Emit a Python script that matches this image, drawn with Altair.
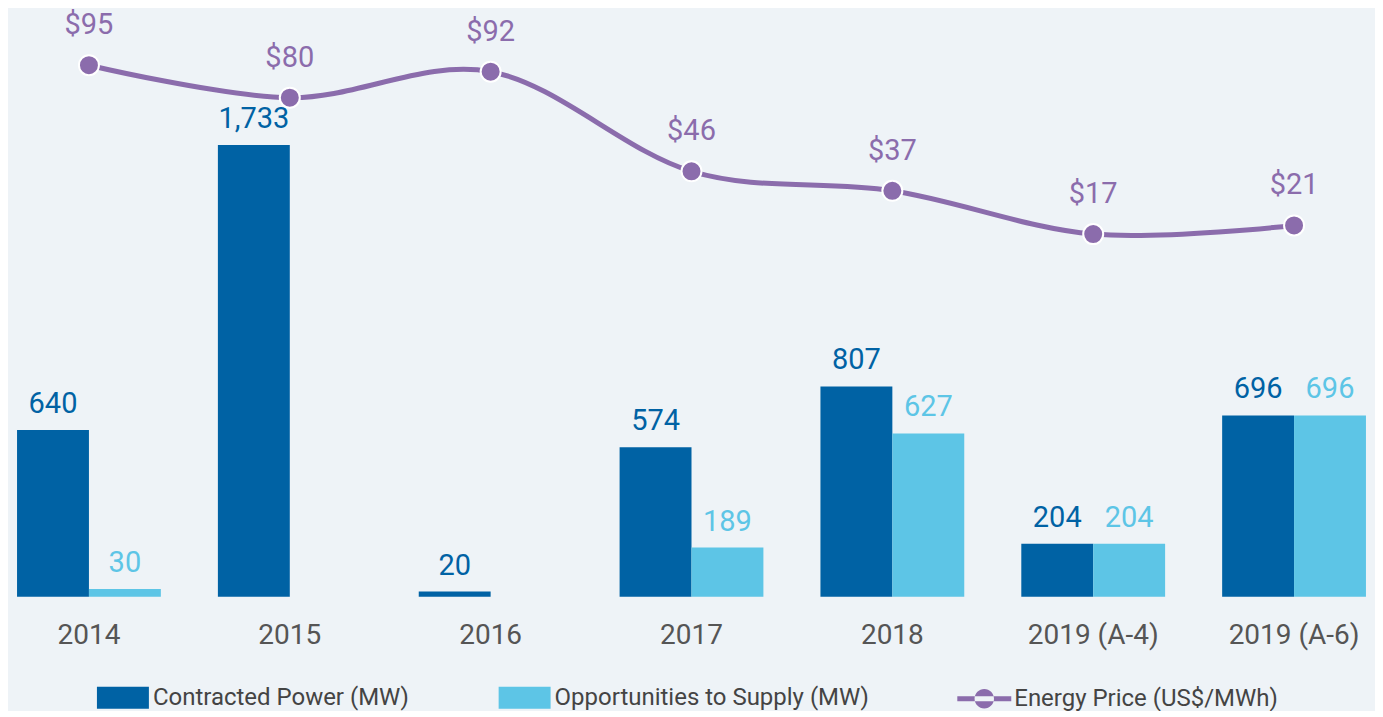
import altair as alt
import pandas as pd

categories = ["2014", "2015", "2016", "2017", "2018", "2019 (A-4)", "2019 (A-6)"]
contracted = [640, 1733, 20, 574, 807, 204, 696]
opportunities = [30, None, None, 189, 627, 204, 696]
prices = [95, 80, 92, 46, 37, 17, 21]

series_names = ["Contracted Power (MW)", "Opportunities to Supply (MW)"]
price_name = "Energy Price (US$/MWh)"

DARK = "#0062A4"
LIGHT = "#5DC5E6"
PURPLE = "#8B6CAC"
FONT = "Roboto, DejaVu Sans Condensed, sans-serif"

rows = []
for c, v1, v2 in zip(categories, contracted, opportunities):
    rows.append({"cat": c, "series": series_names[0], "value": v1})
    if v2 is not None:
        rows.append({"cat": c, "series": series_names[1], "value": v2})
bars_df = pd.DataFrame(rows)
price_df = pd.DataFrame({"cat": categories, "price": prices, "name": price_name})

x_axis = alt.Axis(title=None, domain=False, ticks=False, labelAngle=0,
                  labelFont=FONT, labelFontSize=28, labelColor="#555555",
                  labelPadding=25, grid=False)
x_enc = alt.X("cat:N", sort=categories, axis=x_axis,
              scale=alt.Scale(paddingInner=0.284, paddingOuter=0.045))
xoff = alt.XOffset("series:N", sort=series_names,
                   scale=alt.Scale(domain=series_names, paddingInner=0, paddingOuter=0))
y_bar = alt.Y("value:Q", axis=None, scale=alt.Scale(domain=[0, 2258], nice=False, zero=True))
color_scale = alt.Scale(domain=series_names, range=[DARK, LIGHT])

rect_path = "M-1,-0.42H1V0.42H-1Z"
line_path = ("M-1,-0.09H1V0.09H-1Z "
             "M-0.36,0A0.36,0.36 0 1,0 0.36,0A0.36,0.36 0 1,0 -0.36,0Z")

bars = alt.Chart(bars_df).mark_bar().encode(
    x=x_enc, xOffset=xoff, y=y_bar,
    color=alt.Color("series:N", scale=color_scale,
                    legend=alt.Legend(title=None, orient="none", direction="horizontal",
                                      legendX=89, legendY=664,
                                      symbolType=rect_path, symbolSize=2704,
                                      symbolStrokeWidth=0, symbolOpacity=1,
                                      labelFont=FONT, labelFontSize=24,
                                      labelColor="#444444", labelOffset=4,
                                      columnPadding=89, labelLimit=400)),
)

bar_text = alt.Chart(bars_df).mark_text(font=FONT, fontSize=29, baseline="alphabetic", dy=-17).encode(
    x=x_enc, xOffset=xoff, y=y_bar,
    text=alt.Text("value:Q", format=",.0f"),
    color=alt.Color("series:N", scale=color_scale, legend=None),
)

y_price = alt.Y("price:Q", axis=None, scale=alt.Scale(domain=[-150.5, 121.3], nice=False, zero=False))

line = alt.Chart(price_df).mark_line(interpolate="cardinal", strokeWidth=5).encode(
    x=x_enc, y=y_price,
    color=alt.Color("name:N", scale=alt.Scale(domain=[price_name], range=[PURPLE]),
                    legend=alt.Legend(title=None, orient="none", direction="horizontal",
                                      legendX=950, legendY=664,
                                      symbolType=line_path, symbolSize=2916,
                                      symbolFillColor=PURPLE, symbolStrokeColor=PURPLE,
                                      symbolStrokeWidth=0, symbolOpacity=1,
                                      labelFont=FONT, labelFontSize=24,
                                      labelColor="#444444", labelOffset=3, labelLimit=400)),
)

points = alt.Chart(price_df).mark_circle(size=400, opacity=1, stroke="white", strokeWidth=2,
                                        color=PURPLE).encode(x=x_enc, y=y_price)

price_text = alt.Chart(price_df).mark_text(font=FONT, fontSize=29, baseline="alphabetic",
                                          dy=-31, color=PURPLE).encode(
    x=x_enc, y=y_price, text=alt.Text("price:Q", format="$.0f"))

chart = alt.layer(bars, bar_text, line, points, price_text).resolve_scale(
    y="independent", color="independent"
).properties(
    width=1368, height=589, padding=0, background="#EEF3F7"
).configure_view(stroke=None)

chart.save("out.html", embed_options={"renderer": "svg", "actions": False})
